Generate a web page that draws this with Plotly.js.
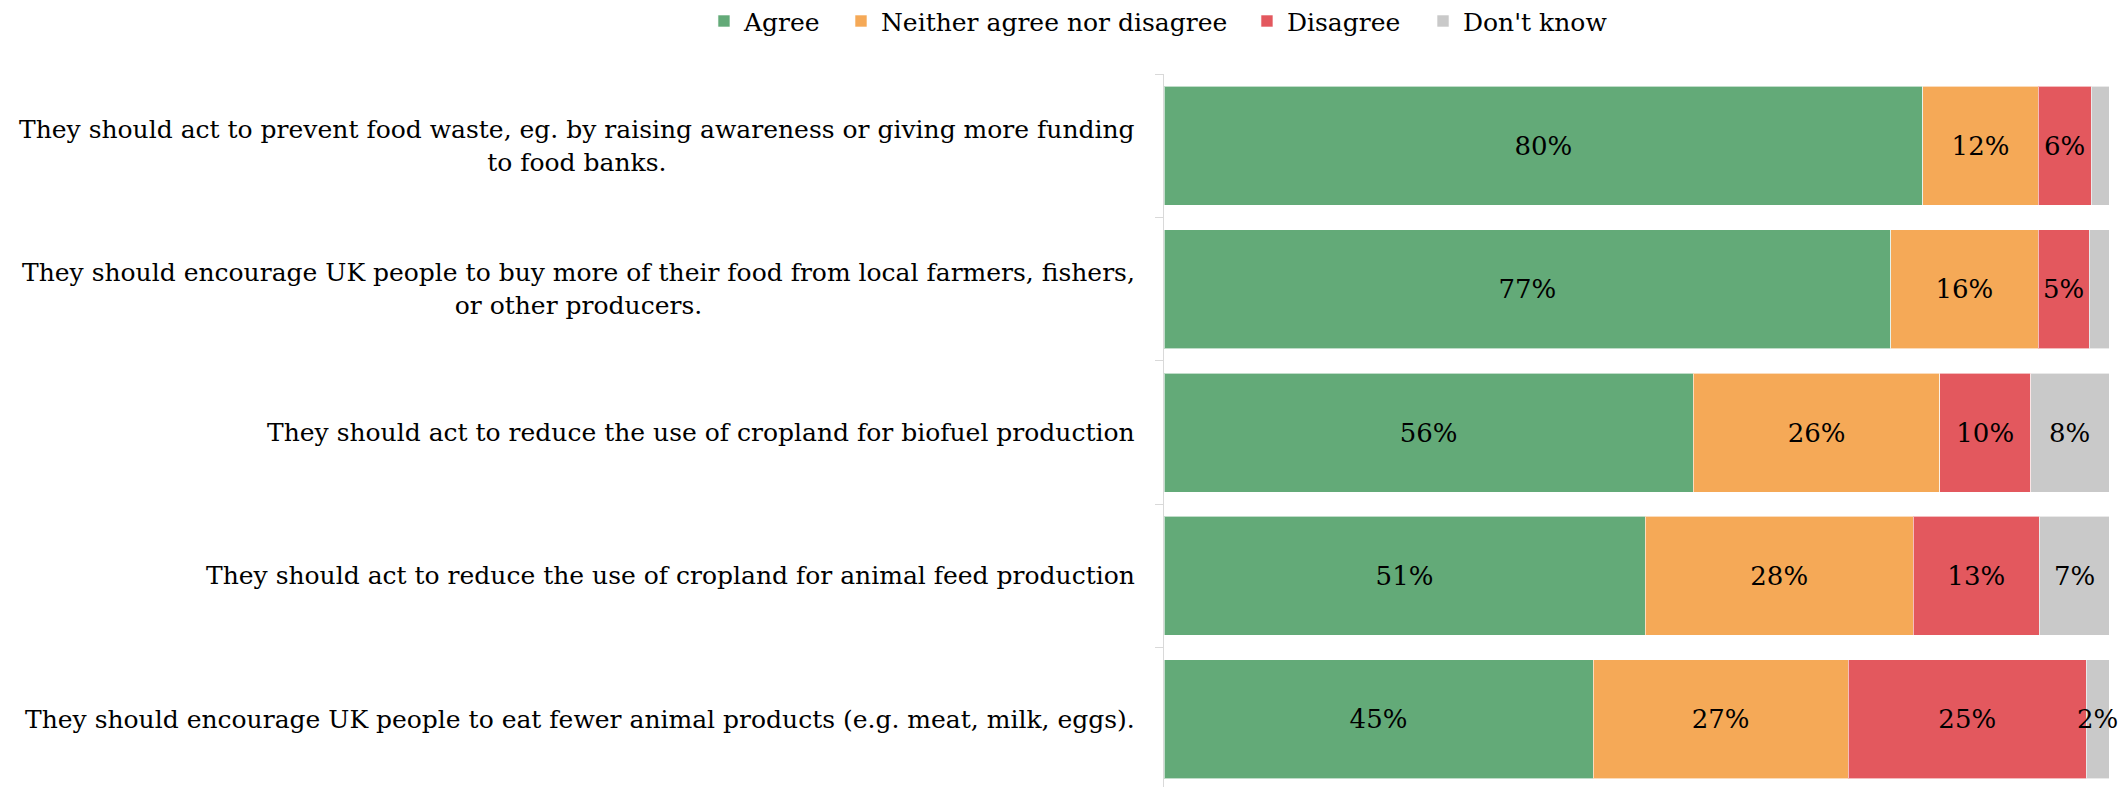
<!DOCTYPE html>
<html>
<head>
<meta charset="utf-8">
<script src="https://cdn.plot.ly/plotly-3.0.1.min.js"></script>
<style>html,body{margin:0;padding:0;background:#fff;}#chart{width:2128px;height:787px;}</style>
</head>
<body>
<div id="chart"></div>
<script>
const categories = [
  "They should act to prevent food waste, eg. by raising awareness or giving more funding<br>to food banks.",
  "They should encourage UK people to buy more of their food from local farmers, fishers,<br>or other producers.",
  "They should act to reduce the use of cropland for biofuel production",
  "They should act to reduce the use of cropland for animal feed production",
  "They should encourage UK people to eat fewer animal products (e.g. meat, milk, eggs)."
];
const seriesNames = ["Agree", "Neither agree nor disagree", "Disagree", "Don't know"];
const agree    = [80.3, 76.9, 56.0, 50.9, 45.4];
const neither  = [12.2, 15.6, 26.1, 28.4, 27.0];
const disagree = [5.6, 5.4, 9.6, 13.3, 25.2];
const dontKnow = [1.9, 2.1, 8.3, 7.4, 2.4];
const showDontKnowLabel = [false, false, true, true, true];

const colors = ["#63AA78", "#F5A957", "#E3585E", "#C9C9C9"];
const FONT = "Georgia, 'DejaVu Serif', serif";
const allSeries = [agree, neither, disagree, dontKnow];
const legendIds = ['legend', 'legend2', 'legend3', 'legend4'];
const legendX = [-0.4868, -0.3418, 0.0878, 0.2741];

const traces = allSeries.map((vals, s) => ({
  type: 'bar',
  orientation: 'h',
  name: seriesNames[s],
  legend: legendIds[s],
  x: vals,
  y: categories,
  marker: {color: colors[s], line: {color: 'rgba(255,255,255,0.6)', width: 1}},
  text: s === 3 ? vals.map(() => '') : vals.map(v => Math.round(v) + '%'),
  textposition: 'inside',
  insidetextanchor: 'middle',
  constraintext: 'none',
  textangle: 0,
  textfont: {family: FONT, size: 26, color: '#000'},
  hoverinfo: 'x+name'
}));

const annotations = categories.map(c => ({
  xref: 'paper', yref: 'y', x: 0, y: c,
  xanchor: 'right', yanchor: 'middle', xshift: -27,
  align: 'center', showarrow: false,
  text: c,
  font: {family: FONT, size: 25, color: '#000'}
}));

// "Don't know" labels: centred on each grey segment, allowed to overflow
dontKnow.forEach((v, i) => {
  if (!showDontKnowLabel[i]) return;
  annotations.push({
    xref: 'x', yref: 'y', x: agree[i] + neither[i] + disagree[i] + v / 2, y: categories[i],
    xanchor: 'center', yanchor: 'middle', showarrow: false,
    text: Math.round(v) + '%',
    font: {family: FONT, size: 26, color: '#000'}
  });
});

const layout = {
  width: 2128, height: 787,
  barmode: 'stack',
  bargap: 0.17,
  margin: {l: 1164, r: 19, t: 74, b: 0, pad: 0, autoexpand: false},
  paper_bgcolor: '#fff', plot_bgcolor: '#fff',
  font: {family: FONT, size: 25, color: '#000'},
  showlegend: true,
  xaxis: {range: [0, 100], visible: false, fixedrange: true},
  yaxis: {type: 'category', range: [4.472, -0.5], showticklabels: false,
          showline: true, linecolor: '#d9d9d9', linewidth: 1,
          ticks: 'outside', tickson: 'boundaries', ticklen: 8, tickcolor: '#d9d9d9',
          showgrid: false, zeroline: false},
  annotations: annotations
};
legendIds.forEach((id, s) => {
  layout[id] = {orientation: 'h', x: legendX[s], xanchor: 'left', y: 1.074, yanchor: 'middle',
                font: {family: FONT, size: 25, color: '#000'}, bgcolor: 'rgba(0,0,0,0)'};
});

Plotly.newPlot('chart', traces, layout, {displayModeBar: false, staticPlot: true});
</script>
</body>
</html>
